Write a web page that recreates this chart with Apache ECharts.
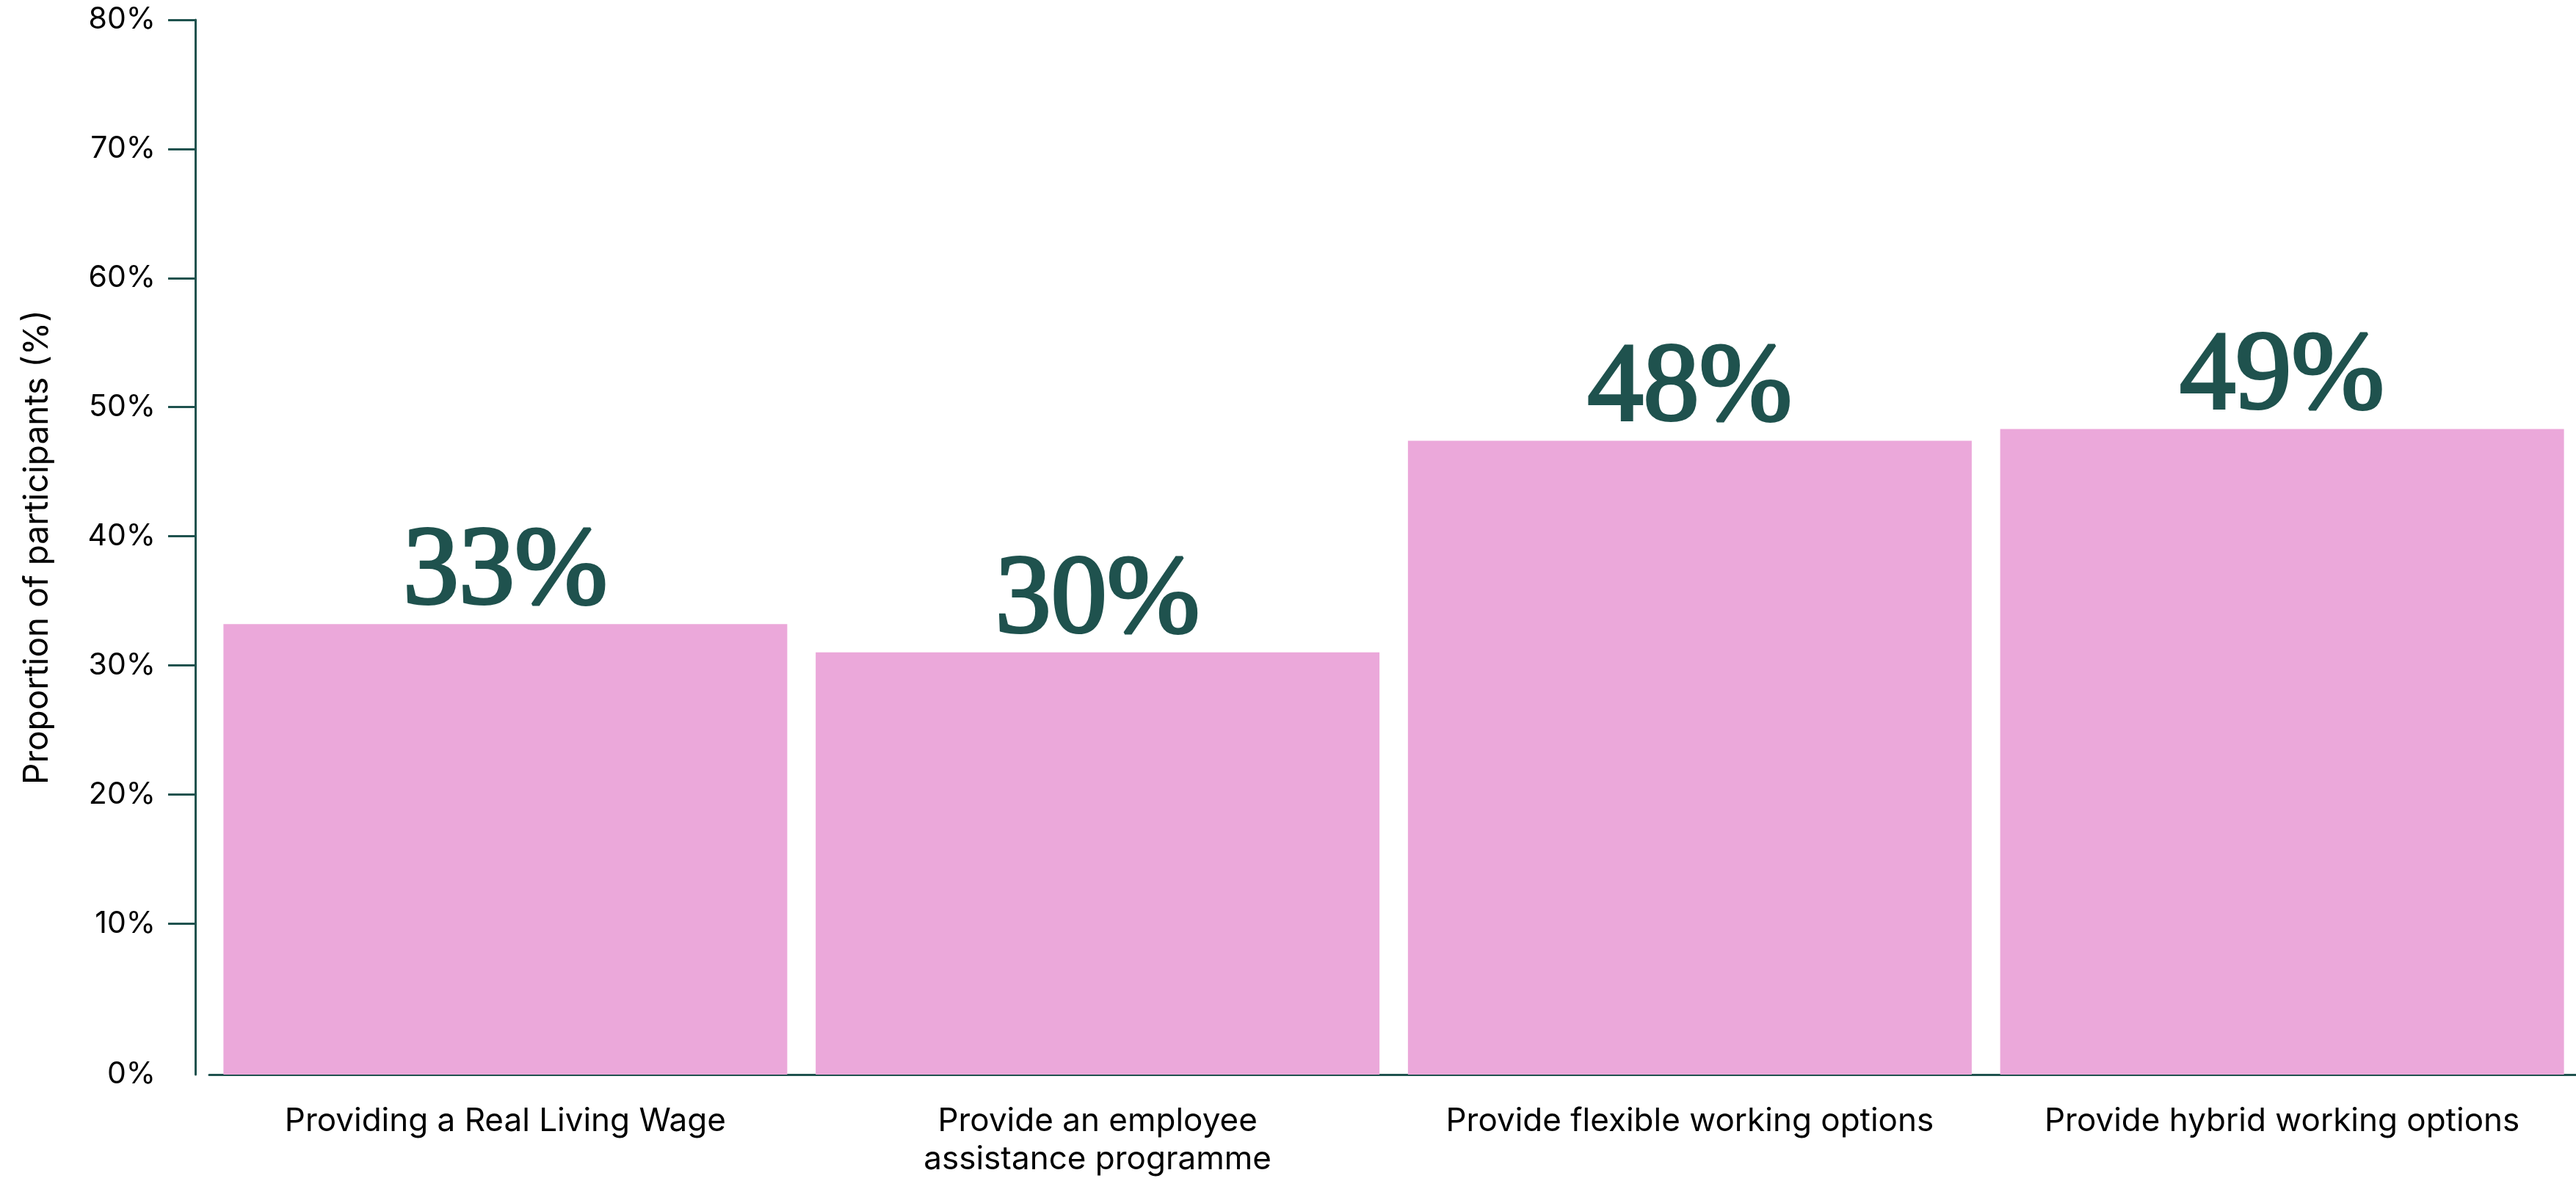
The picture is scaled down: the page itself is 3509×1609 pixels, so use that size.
<!DOCTYPE html>
<html>
<head>
<meta charset="utf-8">
<script src="https://cdn.jsdelivr.net/npm/echarts@6/dist/echarts.min.js"></script>
<style>
  html, body { margin: 0; padding: 0; background: #fff; }
  #chart { width: 3509px; height: 1609px; }
</style>
</head>
<body>
<div id="chart"></div>
<script>
// categories + values
const categories = [
  "Providing a Real Living Wage",
  "Provide an employee\nassistance programme",
  "Provide flexible working options",
  "Provide hybrid working options"
]
const values = [33.2, 31.0, 47.4, 48.3]
const valueLabels = ["33%", "30%", "48%", "49%"]
// axis runs a little below zero in the original, bars reach down to it
const yMin = -1.7
const yMax = 80
const yLabelValues = [yMin, 10, 20, 30, 40, 50, 60, 70, 80]
const yTickValues = [10, 20, 30, 40, 50, 60, 70, 80]

const teal = "#1f524e"
const pink = "#eba8da"
const sans = "Inter"

let myChart = echarts.init(document.getElementById("chart"))

myChart.setOption({
  animation: false,
  grid: {
    left: 285,
    top: 27,
    width: 3227,
    bottom: 145,
    containLabel: false,
    outerBoundsMode: "none"
  },
  xAxis: {
    type: "category",
    data: categories,
    axisLine: { onZero: false, lineStyle: { color: teal, width: 3 } },
    axisTick: { show: false },
    axisLabel: {
      color: "#000",
      fontFamily: sans,
      fontSize: 44,
      lineHeight: 52,
      margin: 38,
      interval: 0
    }
  },
  yAxis: {
    type: "value",
    min: yMin,
    max: yMax,
    offset: 19,
    splitLine: { show: false },
    name: "Proportion of participants (%)",
    nameLocation: "middle",
    nameGap: 192,
    nameTextStyle: { color: "#000", fontFamily: sans, fontSize: 46 },
    axisLine: { show: true, lineStyle: { color: teal, width: 3 } },
    axisTick: {
      show: true,
      length: 37,
      customValues: yTickValues,
      lineStyle: { color: teal, width: 3 }
    },
    axisLabel: {
      color: "#000",
      fontFamily: sans,
      fontSize: 41,
      margin: 54,
      customValues: yLabelValues,
      formatter: (v) => (v <= 0 ? "0" : Math.round(v)) + "%"
    }
  },
  series: [
    {
      // stretch each bar down to the axis line below zero
      type: "bar",
      stack: "bars",
      data: values.map(() => yMin),
      barWidth: 768,
      itemStyle: { color: pink },
      silent: true
    },
    {
      type: "bar",
      stack: "bars",
      data: values,
      barWidth: 768,
      itemStyle: { color: pink },
      label: {
        show: true,
        position: "top",
        distance: -8,
        color: teal,
        fontFamily: "Liberation Serif",
        fontSize: 152,
        textBorderColor: teal,
        textBorderWidth: 4,
        formatter: (p) => valueLabels[p.dataIndex]
      }
    }
  ]
})
</script>
</body>
</html>
